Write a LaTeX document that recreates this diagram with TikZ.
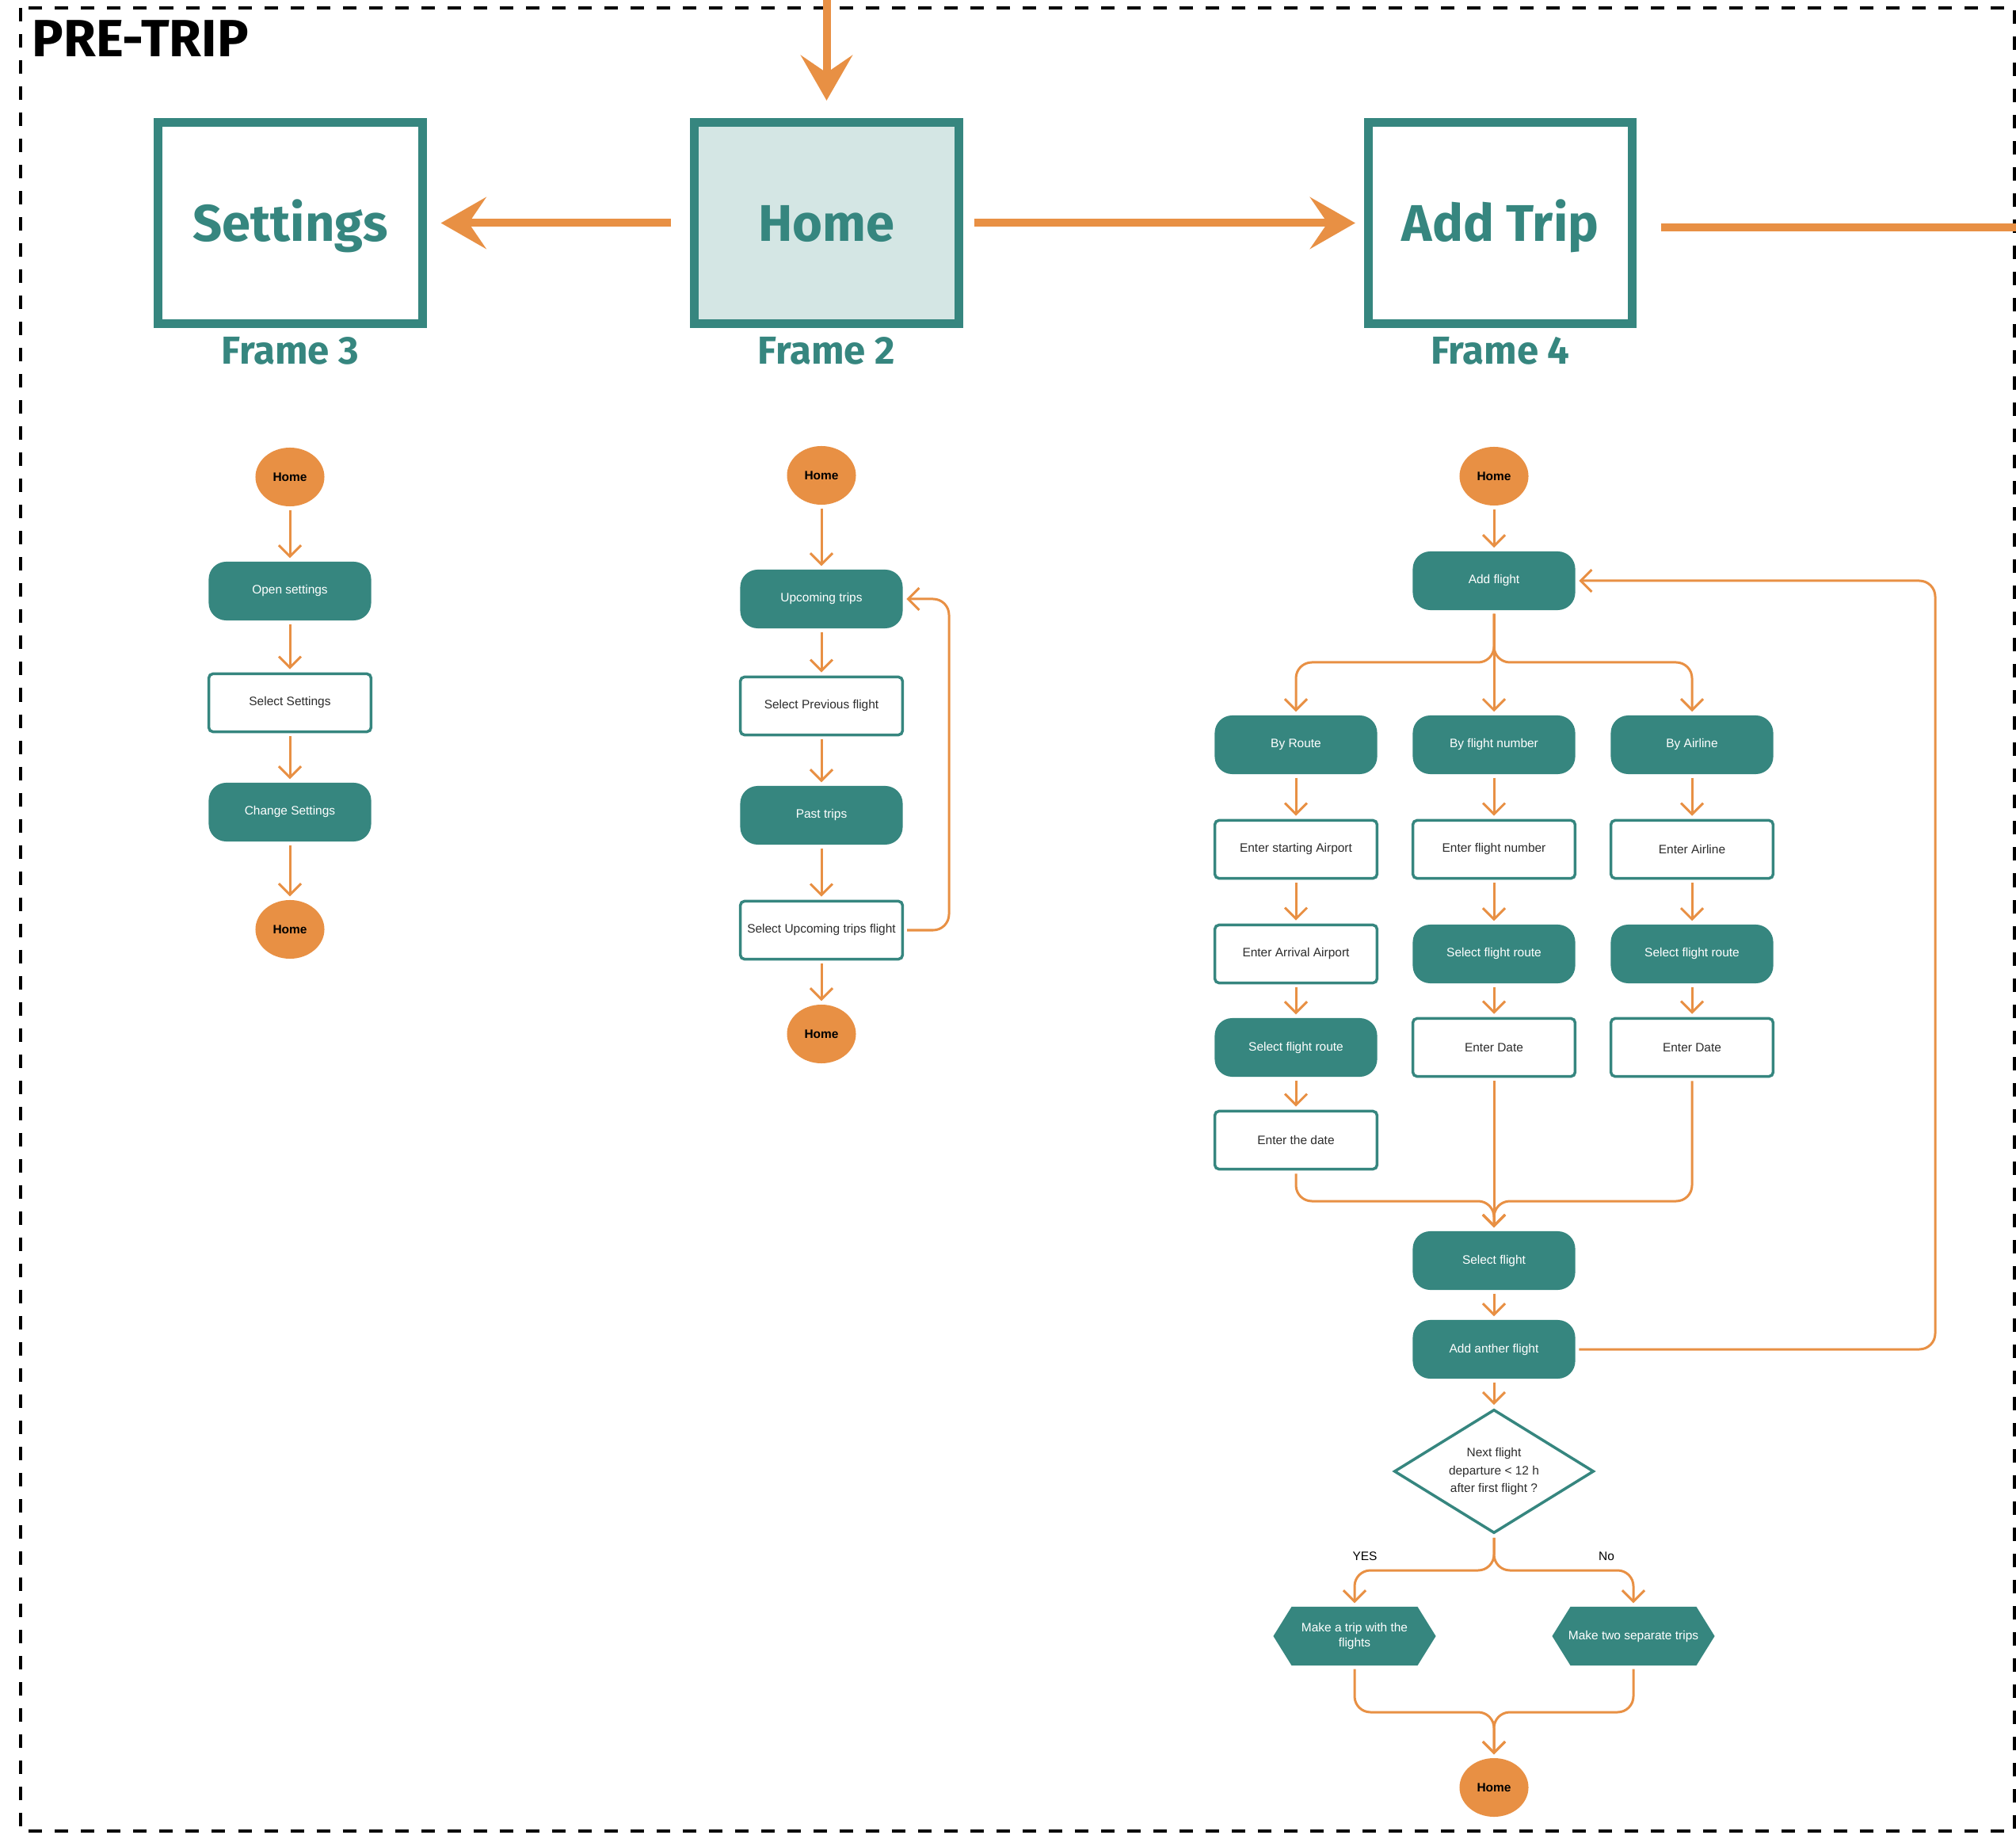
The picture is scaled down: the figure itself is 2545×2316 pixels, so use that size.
\documentclass[tikz,border=0pt]{standalone}
\usepackage{fontspec}
\setmainfont{Liberation Sans}
\newfontfamily\framefont{Fira Sans}
\usetikzlibrary{arrows.meta,shapes.geometric,calc}
\definecolor{tealc}{RGB}{54,134,127}
\definecolor{orng}{RGB}{232,144,68}
\definecolor{lteal}{RGB}{212,230,228}
\definecolor{txtg}{RGB}{45,45,45}
\begin{document}
\begin{tikzpicture}[x=0.01cm,y=-0.01cm,
 small/.style={font=\fontsize{4.4pt}{5.3pt}\selectfont},
 frm/.style={draw=tealc, line width=0.11cm, minimum width=3.33cm, minimum height=2.54cm, inner sep=0pt, text=tealc, font=\framefont\bfseries\fontsize{18.5pt}{20pt}\selectfont, text height=0.45cm, text depth=0cm},
 frlab/.style={text=tealc, font=\framefont\bfseries\fontsize{14pt}{16pt}\selectfont, anchor=base, inner sep=0pt},
 proc/.style={small, fill=tealc, text=white, rounded corners=0.22cm, minimum width=2.05cm, minimum height=0.74cm, inner sep=0pt},
 inp/.style={small, draw=tealc, line width=0.035cm, fill=white, text=txtg, rounded corners=0.05cm, minimum width=2.045cm, minimum height=0.73cm, inner sep=0pt},
 term/.style={ellipse, fill=orng, text=black, font=\bfseries\fontsize{4.4pt}{5.3pt}\selectfont, minimum width=0.87cm, minimum height=0.74cm, inner sep=0pt},
 hexa/.style={small, text=white, minimum width=2.05cm, minimum height=0.74cm, inner sep=0pt, align=center,
   path picture={\fill[tealc] (path picture bounding box.west) -- ([xshift=0.23cm]path picture bounding box.north west) -- ([xshift=-0.23cm]path picture bounding box.north east) -- (path picture bounding box.east) -- ([xshift=-0.23cm]path picture bounding box.south east) -- ([xshift=0.23cm]path picture bounding box.south west) -- cycle;}},
 dia/.style={diamond, draw=tealc, line width=0.035cm, fill=white, text=txtg, minimum width=2.52cm, minimum height=1.56cm, inner sep=0pt, aspect=1.6, align=center, font=\fontsize{4.4pt}{6.5pt}\selectfont},
 arr/.style={draw=orng, line width=0.03cm, -{Straight Barb[length=0.14cm,width=0.28cm]}, shorten <=0.04cm, shorten >=0.04cm},
 big/.style={draw=orng, line width=0.1cm, -{Stealth[length=0.57cm,width=0.65cm,inset=0.22cm]}},
 bigline/.style={draw=orng, line width=0.1cm},
 lbl/.style={small, text=black, inner sep=0pt}
]
\useasboundingbox (0,0) rectangle (2545,2316);
% border
\draw[line width=0.04cm, dash pattern=on 0.17cm off 0.16cm] (26,10) rectangle (2543,2311);
\node[anchor=base west, inner sep=0pt, font=\framefont\bfseries\fontsize{18.8pt}{20pt}\selectfont] (title) at (40,72) {PRE-TRIP};

% frames
\node[frm] (fset) at (366.5,281.5) {Settings};
\node[frm, fill=lteal] (fhome) at (1043.5,281.5) {Home};
\node[frm] (fadd) at (1894,281.5) {Add Trip};
\node[frlab] (lset) at (366.5,460) {Frame 3};
\node[frlab] (lhome) at (1043.5,460) {Frame 2};
\node[frlab] (ladd) at (1894,460) {Frame 4};

\coordinate (topin) at (1043.5,0);
\coordinate (rout) at (2545,287);
\draw[big, shorten >=0.22cm] (topin) -- (fhome.north);
\draw[big, shorten <=0.24cm, shorten >=0.18cm] (fhome.west) -- (fset.east);
\draw[big, shorten <=0.14cm, shorten >=0.11cm] (fhome.east) -- (fadd.west);
\draw[bigline, shorten <=0.31cm] (fadd.east |- rout) -- (rout);

% settings column
\node[term] (h1) at (366,602) {Home};
\node[proc] (os) at (366,746) {Open settings};
\node[inp] (ss) at (366,887) {Select Settings};
\node[proc] (cs) at (366,1025) {Change Settings};
\node[term] (h2) at (366,1173) {Home};
\draw[arr] (h1) -- (os);
\draw[arr] (os) -- (ss);
\draw[arr] (ss) -- (cs);
\draw[arr] (cs) -- (h2);

% home column
\node[term] (h3) at (1037,600) {Home};
\node[proc] (ut) at (1037,756) {Upcoming trips};
\node[inp] (spf) at (1037,891) {Select Previous flight};
\node[proc] (pt) at (1037,1029) {Past trips};
\node[inp] (sut) at (1037,1174) {Select Upcoming trips flight};
\node[term] (h4) at (1037,1305) {Home};
\draw[arr] (h3) -- (ut);
\draw[arr] (ut) -- (spf);
\draw[arr] (spf) -- (pt);
\draw[arr] (pt) -- (sut);
\draw[arr] (sut) -- (h4);
\coordinate (lpC) at (1198,1174);
\coordinate (lpD) at (1198,756);
\draw[arr, rounded corners=0.2cm] (sut.east) -- (lpC) -- (lpD) -- (ut.east);

% add trip column
\node[term] (h5) at (1886,601) {Home};
\node[proc] (af) at (1886,733) {Add flight};
\node[proc] (br) at (1636,940) {By Route};
\node[proc] (bfn) at (1886,940) {By flight number};
\node[proc] (bal) at (2136,940) {By Airline};
\node[inp] (esa) at (1636,1072) {Enter starting Airport};
\node[inp] (efn) at (1886,1072) {Enter flight number};
\node[inp] (eal) at (2136,1072) {Enter Airline};
\node[inp] (eaa) at (1636,1204) {Enter Arrival Airport};
\node[proc] (sfr2) at (1886,1204) {Select flight route};
\node[proc] (sfr3) at (2136,1204) {Select flight route};
\node[proc] (sfr1) at (1636,1322) {Select flight route};
\node[inp] (ed2) at (1886,1322) {Enter Date};
\node[inp] (ed3) at (2136,1322) {Enter Date};
\node[inp] (etd) at (1636,1439) {Enter the date};
\node[proc] (sf) at (1886,1591) {Select flight};
\node[proc] (aaf) at (1886,1703) {Add anther flight};
\node[dia] (dec) at (1886,1857) {Next flight\\departure {<} 12 h\\after first flight ?};
\node[hexa] (hx1) at (1710,2065) {Make a trip with the\\flights};
\node[hexa] (hx2) at (2062,2065) {Make two separate trips};
\node[term] (h6) at (1886,2256) {Home};
\node[lbl] (yes) at (1723,1964) {YES};
\node[lbl] (no) at (2028,1964) {No};

\draw[arr] (h5) -- (af);
\coordinate (jA) at (1886,836);
\draw[arr, rounded corners=0.2cm] (af.south) -- (jA) -| (br.north);
\draw[arr] (af) -- (bfn);
\draw[arr, rounded corners=0.2cm] (af.south) -- (jA) -| (bal.north);
\draw[arr] (br) -- (esa);
\draw[arr] (esa) -- (eaa);
\draw[arr] (eaa) -- (sfr1);
\draw[arr] (sfr1) -- (etd);
\draw[arr] (bfn) -- (efn);
\draw[arr] (efn) -- (sfr2);
\draw[arr] (sfr2) -- (ed2);
\draw[arr] (bal) -- (eal);
\draw[arr] (eal) -- (sfr3);
\draw[arr] (sfr3) -- (ed3);
\coordinate (jB) at (1886,1516);
\draw[arr, rounded corners=0.2cm] (etd.south) |- (jB) -- (sf.north);
\draw[arr, rounded corners=0.2cm] (ed3.south) |- (jB) -- (sf.north);
\draw[arr] (ed2) -- (sf);
\draw[arr] (sf) -- (aaf);
\coordinate (lpA) at (2443,1703);
\coordinate (lpB) at (2443,733);
\draw[arr, rounded corners=0.2cm] (aaf.east) -- (lpA) -- (lpB) -- (af.east);
\draw[arr] (aaf) -- (dec);
\coordinate (jC) at (1886,1982);
\draw[arr, rounded corners=0.2cm] (dec.south) -- (jC) -| (hx1.north);
\draw[arr, rounded corners=0.2cm] (dec.south) -- (jC) -| (hx2.north);
\coordinate (jD) at (1886,2161);
\draw[arr, rounded corners=0.2cm] (hx1.south) |- (jD) -- (h6.north);
\draw[arr, rounded corners=0.2cm] (hx2.south) |- (jD) -- (h6.north);
\end{tikzpicture}
\end{document}
